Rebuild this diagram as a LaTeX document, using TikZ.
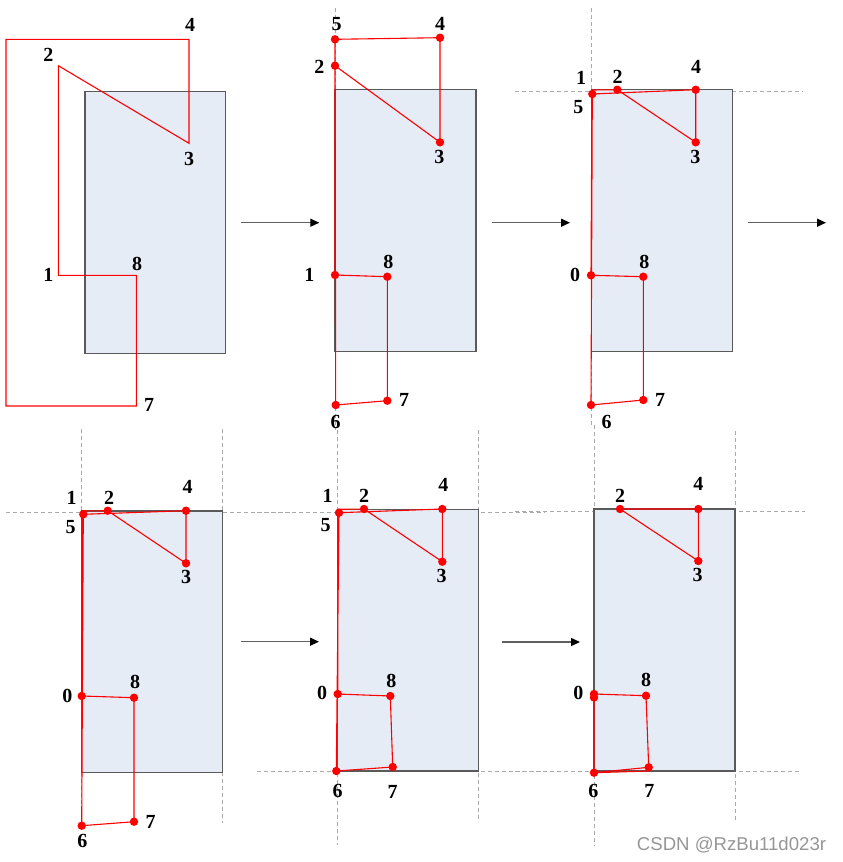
\documentclass[tikz,border=0pt]{standalone}
\usepackage{fontspec}
\setmainfont{Liberation Serif}
\setsansfont{Liberation Sans}
\usetikzlibrary{arrows.meta}
\definecolor{boxfill}{RGB}{230,236,246}
\definecolor{boxline}{RGB}{90,90,90}
\definecolor{guidegray}{RGB}{170,170,170}
\definecolor{arrgray}{RGB}{95,95,95}
\definecolor{wmgray}{RGB}{150,150,150}
\tikzset{
  stockbox/.style={fill=boxfill,draw=boxline,line width=1.2pt},
  redline/.style={draw=red,line width=1.1pt,line join=miter},
  reddot/.style={circle,fill=red,inner sep=0pt,minimum size=8.4pt},
  numlab/.style={font=\bfseries\fontsize{20}{20}\selectfont,inner sep=0pt},
  guide/.style={draw=guidegray,line width=0.8pt,dash pattern=on 4pt off 3pt},
  flowarrow/.style={draw=arrgray,line width=1.3pt,-{Triangle[length=9pt,width=8pt,color=black]}},
}
\begin{document}
\begin{tikzpicture}[x=1pt,y=-1pt]
\useasboundingbox (0,0) rectangle (843,862);

% ---------------- guides ----------------
% panel 2
\draw[guide] (335,8) -- (335,430);
% panel 3
\draw[guide] (591.7,8) -- (591.7,428);
\draw[guide] (515,91) -- (803,91);
% panel 4
\draw[guide] (81.7,429) -- (81.7,826);
\draw[guide] (222.7,429) -- (222.7,823);
\draw[guide] (6,512) -- (290,512);
% panel 5
\draw[guide] (337.7,430) -- (337.7,845);
\draw[guide] (478.7,430) -- (478.7,822);
\draw[guide] (257,512) -- (545,512);
\draw[guide] (257,771) -- (545,771);
% panel 6
\draw[guide] (594,425) -- (594,846);
\draw[guide] (735,431) -- (735,822);
\draw[guide] (515,511) -- (805,511);
\draw[guide] (515,771) -- (800,771);

% ---------------- boxes ----------------
\draw[stockbox] (85,91.7) rectangle (225.7,353.3);
\draw[stockbox] (335,89.7) rectangle (476,351.3);
\draw[stockbox] (591.7,89.7) rectangle (732.3,351.7);
\draw[stockbox] (81.7,511) rectangle (222.7,772.3);
\draw[stockbox] (337.7,509.3) rectangle (478.7,771);
\draw[stockbox] (594,509) rectangle (735,771);

% ---------------- arrows ----------------
\coordinate (r1s) at (241,222.7);   \coordinate (r1e) at (319.3,222.7);
\coordinate (r2s) at (492,222.7);   \coordinate (r2e) at (570,222.7);
\coordinate (r3s) at (747.7,222.7); \coordinate (r3e) at (826,222.7);
\coordinate (r4s) at (241,641.7);   \coordinate (r4e) at (319,641.7);
\coordinate (r5s) at (502.3,642);   \coordinate (r5e) at (580,642);
\draw[flowarrow] (r1s) -- (r1e);
\draw[flowarrow] (r2s) -- (r2e);
\draw[flowarrow] (r3s) -- (r3e);
\draw[flowarrow] (r4s) -- (r4e);
\draw[flowarrow] (r5s) -- (r5e);

% ---------------- panel 1 ----------------
\coordinate (a1) at (58.3,275.3);
\coordinate (a2) at (58.3,65.7);
\coordinate (a3) at (189,143.3);
\coordinate (a4) at (189,39.3);
\coordinate (a5) at (6,39.3);
\coordinate (a6) at (6,406);
\coordinate (a7) at (136.3,406);
\coordinate (a8) at (136.3,275.3);
\draw[redline] (a1) -- (a2) -- (a3) -- (a4) -- (a5) -- (a6) -- (a7) -- (a8) -- cycle;
\node[numlab] (la1) at (48.3,275.3) {1};
\node[numlab] (la2) at (48.3,55) {2};
\node[numlab] (la3) at (189,159) {3};
\node[numlab] (la4) at (190,25) {4};
\node[numlab] (la7) at (149,405) {7};
\node[numlab] (la8) at (137,264) {8};

% ---------------- panel 2 ----------------
\coordinate (b1) at (335,275);
\coordinate (b2) at (335,65.7);
\coordinate (b3) at (440,142.3);
\coordinate (b4) at (440,37.7);
\coordinate (b5) at (335,39.3);
\coordinate (b6) at (335.7,405);
\coordinate (b7) at (387.3,400.7);
\coordinate (b8) at (387.3,276.7);
\draw[redline] (b1) -- (b2) -- (b3) -- (b4) -- (b5) -- (b6) -- (b7) -- (b8) -- cycle;
\foreach \p in {b1,b2,b3,b4,b5,b6,b7,b8} \node[reddot] (d\p) at (\p) {};
\node[numlab] (lb1) at (309.3,275) {1};
\node[numlab] (lb2) at (319.3,66.7) {2};
\node[numlab] (lb3) at (439.3,156.7) {3};
\node[numlab] (lb4) at (440,24) {4};
\node[numlab] (lb5) at (336.7,24) {5};
\node[numlab] (lb6) at (335.7,421.7) {6};
\node[numlab] (lb7) at (404,400) {7};
\node[numlab] (lb8) at (388.3,261.7) {8};

% ---------------- panel 3 ----------------
\coordinate (c1) at (592,90);
\coordinate (c2) at (617.3,89.7);
\coordinate (c3) at (695.7,142.3);
\coordinate (c4) at (695.7,89.7);
\coordinate (c5) at (592.3,94);
\coordinate (c6) at (591,405);
\coordinate (c7) at (643.3,400);
\coordinate (c8) at (643.3,276.7);
\coordinate (c0) at (591,275.3);
\draw[redline] (c1) -- (c2) -- (c3) -- (c4) -- (c5) -- (c6) -- (c7) -- (c8) -- (c0) -- cycle;
\foreach \p in {c2,c3,c4,c5,c6,c7,c8,c0} \node[reddot] (d\p) at (\p) {};
\node[numlab] (lc1) at (581,78.3) {1};
\node[numlab] (lc2) at (617.7,77.3) {2};
\node[numlab] (lc3) at (695.3,156.7) {3};
\node[numlab] (lc4) at (696,66.7) {4};
\node[numlab] (lc5) at (578.3,106.7) {5};
\node[numlab] (lc6) at (606.7,421.7) {6};
\node[numlab] (lc7) at (660,400) {7};
\node[numlab] (lc8) at (644.3,261.7) {8};
\node[numlab] (lc0) at (575,275.3) {0};

% ---------------- panel 4 ----------------
\coordinate (e1x) at (82,511);
\coordinate (e2x) at (107.7,510.7);
\coordinate (e3x) at (186,563.3);
\coordinate (e4x) at (186,510.7);
\coordinate (e5x) at (83.3,514.3);
\coordinate (e6x) at (81.7,825.7);
\coordinate (e7x) at (134,821.7);
\coordinate (e8x) at (134,697.7);
\coordinate (e0x) at (81.7,696);
\draw[redline] (e1x) -- (e2x) -- (e3x) -- (e4x) -- (e5x) -- (e6x) -- (e7x) -- (e8x) -- (e0x) -- cycle;
\foreach \p in {e2x,e3x,e4x,e5x,e6x,e7x,e8x,e0x} \node[reddot] (d\p) at (\p) {};
\node[numlab] (ld1) at (71.7,498.3) {1};
\node[numlab] (ld2) at (109,497.7) {2};
\node[numlab] (ld3) at (186,576.7) {3};
\node[numlab] (ld4) at (187.7,486.7) {4};
\node[numlab] (ld5) at (70.7,526.7) {5};
\node[numlab] (ld6) at (82.3,841) {6};
\node[numlab] (ld7) at (150.7,821.7) {7};
\node[numlab] (ld8) at (135,681.7) {8};
\node[numlab] (ld0) at (67.3,695.7) {0};

% ---------------- panel 5 ----------------
\coordinate (g1) at (338,509.3);
\coordinate (g2) at (364,509);
\coordinate (g3) at (442.3,561.7);
\coordinate (g4) at (442.3,509);
\coordinate (g5) at (339,512.7);
\coordinate (g6) at (336.3,771);
\coordinate (g7) at (392.7,767);
\coordinate (g8) at (390.3,696);
\coordinate (g0) at (337.7,694);
\draw[redline] (g1) -- (g2) -- (g3) -- (g4) -- (g5) -- (g6) -- (g7) -- (g8) -- (g0) -- cycle;
\foreach \p in {g2,g3,g4,g5,g6,g7,g8,g0} \node[reddot] (d\p) at (\p) {};
\node[numlab] (le1) at (327.7,496) {1};
\node[numlab] (le2) at (364,496) {2};
\node[numlab] (le3) at (441.7,575.7) {3};
\node[numlab] (le4) at (443.3,485) {4};
\node[numlab] (le5) at (325.7,525) {5};
\node[numlab] (le6) at (337.7,790.7) {6};
\node[numlab] (le7) at (392.7,791.7) {7};
\node[numlab] (le8) at (391.3,680.7) {8};
\node[numlab] (le0) at (322,692.7) {0};

% ---------------- panel 6 ----------------
\coordinate (h2) at (620,509);
\coordinate (h3) at (698.3,561);
\coordinate (h4) at (698.3,509);
\coordinate (h0) at (594,694);
\coordinate (h0b) at (594,697.5);
\coordinate (h8) at (646,695.7);
\coordinate (h7) at (648.7,767.3);
\coordinate (h6) at (594,772.7);
\coordinate (h6r) at (648.7,771);
\draw[redline] (h2) -- (h3) -- (h4) -- cycle;
\draw[redline] (h0) -- (h8) -- (h7) -- (h6) -- cycle;
\draw[redline] (h6) -- (h6r);
\foreach \p in {h2,h3,h4,h0,h0b,h8,h7,h6} \node[reddot] (d\p) at (\p) {};
\node[numlab] (lf2) at (620,495.7) {2};
\node[numlab] (lf3) at (697.7,575) {3};
\node[numlab] (lf4) at (698.3,484.3) {4};
\node[numlab] (lf6) at (593.3,790.7) {6};
\node[numlab] (lf7) at (649.3,790.7) {7};
\node[numlab] (lf8) at (646,680) {8};
\node[numlab] (lf0) at (578.3,692.7) {0};

% ---------------- watermark ----------------
\node[font=\sffamily\fontsize{18.6}{18.6}\selectfont,text=wmgray,inner sep=0pt] (wm) at (731.5,845) {CSDN @RzBu11d023r};
\end{tikzpicture}
\end{document}
